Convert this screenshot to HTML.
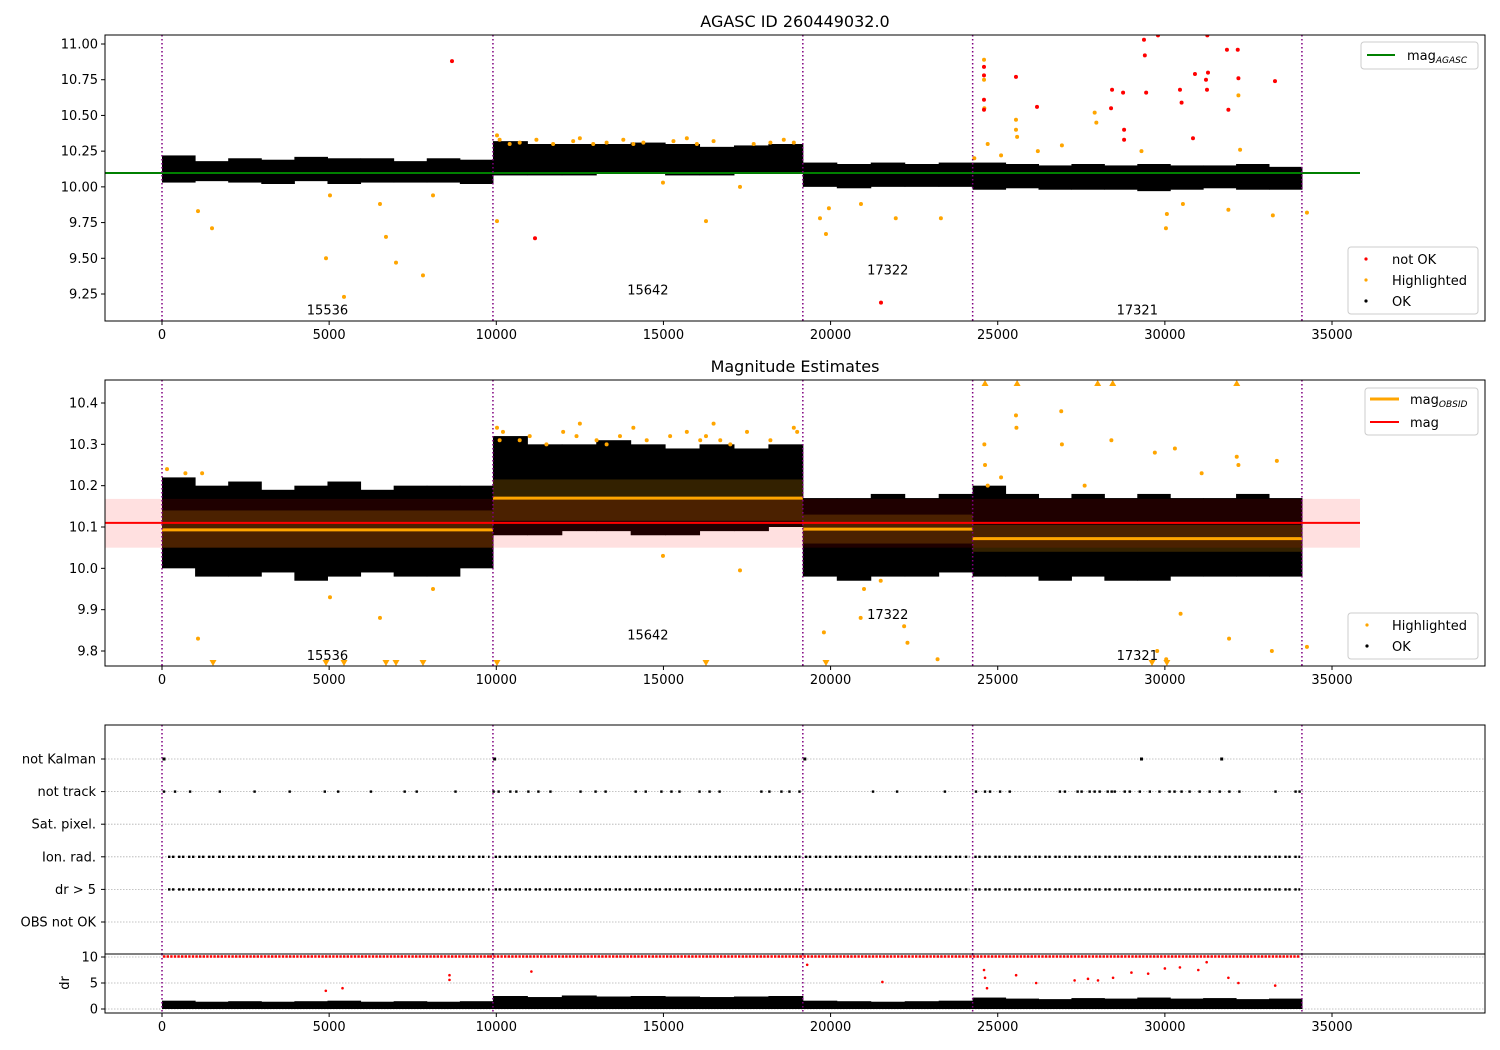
<!DOCTYPE html>
<html><head><meta charset="utf-8">
<style>
html,body{margin:0;padding:0;background:#fff;}
svg{display:block;font-family:"DejaVu Sans","Liberation Sans",sans-serif;}
</style></head>
<body>
<svg id="chart" width="1500" height="1050" viewBox="0 0 1500 1050" xmlns="http://www.w3.org/2000/svg">
<rect width="1500" height="1050" fill="#fff"/>
<text x="795" y="27" font-size="16" text-anchor="middle">AGASC ID 260449032.0</text>
<text x="795" y="372" font-size="16" text-anchor="middle">Magnitude Estimates</text>
<g id="g"></g>
</svg>
<script>
// ---- data ----
const obsBoundaries = [0, 9900, 19170, 24250, 34100];
const obsLabels = ["15536", "15642", "17322", "17321"];
const obsLabelMag1 = [9.14, 9.28, 9.42, 9.14];
const obsLabelMag2 = [9.79, 9.84, 9.89, 9.79];
const magAgasc = 10.097;
const magAll = 10.11;
const magAllLo = 10.05;
const magAllHi = 10.168;
const magObsid = [10.093, 10.17, 10.095, 10.072];
const magObsidLo = [10.05, 10.115, 10.06, 10.04];
const magObsidHi = [10.14, 10.215, 10.13, 10.105];
// panel 1 OK envelope per bin
const p1Hi = [[10.22,10.18,10.2,10.19,10.21,10.2,10.2,10.18,10.2,10.19],[10.32,10.3,10.3,10.3,10.31,10.3,10.28,10.29,10.3],[10.17,10.16,10.17,10.16,10.17],[10.17,10.16,10.15,10.16,10.15,10.16,10.15,10.15,10.16,10.14]];
const p1Lo = [[10.03,10.04,10.03,10.02,10.04,10.02,10.03,10.03,10.03,10.02],[10.08,10.08,10.08,10.09,10.09,10.08,10.08,10.09,10.09],[10.0,9.99,10.0,10.0,10.0],[9.98,9.99,9.98,9.98,9.98,9.97,9.98,9.99,9.98,9.98]];
// panel 2 OK envelope per bin
const p2Hi = [[10.22,10.2,10.21,10.19,10.2,10.21,10.19,10.2,10.2,10.2],[10.32,10.3,10.3,10.31,10.3,10.29,10.3,10.29,10.3],[10.17,10.17,10.18,10.17,10.18],[10.2,10.18,10.17,10.18,10.17,10.18,10.17,10.17,10.18,10.17]];
const p2Lo = [[10.0,9.98,9.98,9.99,9.97,9.98,9.99,9.98,9.98,10.0],[10.08,10.08,10.09,10.09,10.08,10.08,10.09,10.09,10.1],[9.98,9.97,9.98,9.98,9.99],[9.98,9.98,9.97,9.98,9.97,9.97,9.98,9.98,9.98,9.98]];
// panel 1 outliers
const p1RedX = [8675,11158,21508,24589,24589,24589,24589,25546,26175,28390,28420,28750,28780,28780,29375,29400,29440,29794,30452,30500,30841,30900,31230,31260,31290,31270,31857,31900,32200,32180,33294];
const p1RedY = [10.88,9.64,9.19,10.84,10.78,10.61,10.54,10.77,10.56,10.55,10.68,10.66,10.40,10.33,11.03,10.92,10.66,11.06,10.68,10.59,10.34,10.79,10.75,10.68,10.80,11.06,10.96,10.54,10.76,10.96,10.74];
const p1OrX = [1077,1496,5025,4906,5444,6521,6700,7000,7807,8107,10021,10021,10100,10400,10700,11200,11700,12300,12500,12900,13300,13800,14100,14400,14986,15300,15700,16000,16273,16500,17290,17700,18200,18600,18900,19683,19862,19950,20909,21950,23300,24590,24590,24600,25546,25546,25580,26920,27900,27950,29300,30032,30060,30540,31900,32200,32250,33230,34250,24300,24700,25100,26200];
const p1OrY = [9.83,9.71,9.94,9.5,9.23,9.88,9.65,9.47,9.38,9.94,9.76,10.36,10.33,10.3,10.31,10.33,10.3,10.32,10.34,10.3,10.31,10.33,10.3,10.31,10.03,10.32,10.34,10.3,9.76,10.32,10.0,10.3,10.31,10.33,10.31,9.78,9.67,9.85,9.88,9.78,9.78,10.89,10.75,10.55,10.47,10.40,10.35,10.29,10.52,10.45,10.25,9.71,9.81,9.88,9.84,10.64,10.26,9.8,9.82,10.2,10.3,10.22,10.25];
// panel 2 outliers
const p2OrX = [150,700,1077,1200,5025,6521,8107,10021,10100,10200,10700,11000,11500,12000,12400,12500,13000,13300,13700,14100,14500,14986,15200,15700,16100,16273,16500,16700,17000,17290,17500,18200,18900,19000,19800,20900,21000,21500,22200,22300,23200,24600,24620,25546,25560,26900,26920,27600,28400,29700,29770,30040,30300,30470,31100,31920,32150,32200,33200,33350,34250,24700,25100];
const p2OrY = [10.24,10.23,9.83,10.23,9.93,9.88,9.95,10.34,10.31,10.33,10.31,10.32,10.3,10.33,10.32,10.35,10.31,10.3,10.32,10.34,10.31,10.03,10.32,10.33,10.31,10.32,10.35,10.31,10.3,9.995,10.33,10.31,10.34,10.33,9.845,9.88,9.95,9.97,9.86,9.82,9.78,10.3,10.25,10.37,10.34,10.38,10.3,10.2,10.31,10.28,9.8,9.78,10.29,9.89,10.23,9.83,10.27,10.25,9.8,10.26,9.81,10.2,10.22];
const p2TriDownX = [1526,4906,5444,6700,7000,7807,10021,16273,19862,29615,30060];
const p2TriUpX = [24620,25580,27990,28440,32150];
// flags panel
const flagRows = ["not Kalman","not track","Sat. pixel.","Ion. rad.","dr > 5","OBS not OK"];
const notKalmanX = [60,9950,19230,29300,31700];
const notTrackX = [60,390,840,1730,2770,3820,4870,5270,6250,7260,7620,8780,9920,10070,10420,10600,10960,11260,11620,12520,12970,13270,14170,14470,14940,15240,15480,16080,16380,16680,17930,18170,18530,18770,19070,21270,21990,23420,24350,24620,24770,25070,25360,26860,27010,27390,27510,27750,27900,28050,28290,28410,28500,28800,28950,29250,29550,29840,30140,30290,30500,30740,31040,31340,31640,31930,32230,33310,33910,34030];
const denseStart = [180, 9950, 19230, 24300];
const denseEnd = [9800, 19100, 24150, 34050];
// dr panel
const drHi = [[1.6,1.4,1.5,1.4,1.5,1.6,1.4,1.5,1.4,1.5],[2.5,2.3,2.6,2.4,2.5,2.4,2.3,2.4,2.5],[1.6,1.5,1.4,1.5,1.6],[2.2,2.0,1.9,2.1,2.0,2.2,2.0,2.1,1.9,2.0]];
const drRedX = [8600,8600,11050,21550,24590,24620,24680,25550,26150,27300,27700,28000,28450,29000,29500,30000,30450,31000,31250,31900,32200,33300,19300,4900,5400];
const drRedY = [6.5,5.6,7.2,5.2,7.5,6.0,4.0,6.5,5.0,5.5,5.8,5.5,6.0,7.0,6.8,7.8,8.0,7.5,9.0,6.0,5.0,4.5,8.5,3.5,4.0];
const xTicks = [0,5000,10000,15000,20000,25000,30000,35000];
const y1Ticks = [9.25,9.5,9.75,10.0,10.25,10.5,10.75,11.0];
const y2Ticks = [9.8,9.9,10.0,10.1,10.2,10.3,10.4];
const drTicks = [0,5,10];

// ---- scales ----
const X = v => 162 + v * 0.033429;
const Y1 = v => 44 + (11 - v) * 142.857;
const Y2 = v => 403 + (10.4 - v) * 413.33;
const YF = i => 759 + i * 32.6;
const YD = v => 1009 - v * 5.2;

const NS = "http://www.w3.org/2000/svg";
const g = document.getElementById("g");
function mk(tag, attrs, parent) {
  const e = document.createElementNS(NS, tag);
  for (const k in attrs) e.setAttribute(k, attrs[k]);
  (parent || g).appendChild(e);
  return e;
}
function clipRect(id, x, y, w, h) {
  const c = mk("clipPath", {id: id});
  mk("rect", {x: x, y: y, width: w, height: h}, c);
}
clipRect("c1", 105, 35, 1380, 286);
clipRect("c2", 105, 380, 1380, 286);
clipRect("c3", 105, 725, 1380, 229);
clipRect("c4", 105, 954, 1380, 59);

function band(hiArr, loArr, Y, parent, fill) {
  for (let s = 0; s < 4; s++) {
    const a = obsBoundaries[s], b = obsBoundaries[s + 1];
    const n = hiArr[s].length, w = (b - a) / n;
    for (let i = 0; i < n; i++) {
      const r = mk("rect", {x: X(a + i * w), y: Y(hiArr[s][i]), width: X(a + (i + 1) * w) - X(a + i * w) + 0.5, height: Y(loArr[s][i]) - Y(hiArr[s][i]), fill: fill}, parent);
      
      
    }
  }
}
function dots(xs, ys, Y, color, parent, name) {
  for (let i = 0; i < xs.length; i++) {
    const c = mk("circle", {cx: X(xs[i]), cy: Y(ys[i]), r: 2, fill: color}, parent);
    
    
  }
}
function vlines(y0, y1, parent) {
  for (const b of obsBoundaries) {
    const l = mk("line", {x1: X(b), x2: X(b), y1: y0, y2: y1, stroke: "#800080", "stroke-width": 1.5, "stroke-dasharray": "1.5,2.5"}, parent);
    
    
  }
}
function frame(x, y, w, h, name) {
  const r = mk("rect", {x: x, y: y, width: w, height: h, fill: "none", stroke: "#000", "stroke-width": 1});
  
  
}
function xAxis(yb, name) {
  for (const t of xTicks) {
    mk("line", {x1: X(t), x2: X(t), y1: yb, y2: yb + 4, stroke: "#000"});
    const tx = mk("text", {x: X(t), y: yb + 18, "font-size": 13, "text-anchor": "middle"});
    tx.textContent = t;
    
    
  }
}
function yAxis(ticks, Y, fmt, name) {
  for (const t of ticks) {
    mk("line", {x1: 101, x2: 105, y1: Y(t), y2: Y(t), stroke: "#000"});
    const tx = mk("text", {x: 98, y: Y(t) + 4.5, "font-size": 13, "text-anchor": "end"});
    tx.textContent = fmt(t);
    
    
  }
}
function labels(mags, Y, parent) {
  for (let s = 0; s < 4; s++) {
    const t = mk("text", {x: X((obsBoundaries[s] + obsBoundaries[s + 1]) / 2), y: Y(mags[s]) + 5, "font-size": 13, "text-anchor": "middle"}, parent);
    t.textContent = obsLabels[s];
    
    
  }
}

// ---- panel 1 ----
const p1 = mk("g", {"clip-path": "url(#c1)"});


band(p1Hi, p1Lo, Y1, p1, "#000");
dots(p1OrX, p1OrY, Y1, "#ffa500", p1, "highlighted-point");
dots(p1RedX, p1RedY, Y1, "#ff0000", p1, "not-ok-point");
const gl = mk("line", {x1: 105, x2: 1360, y1: Y1(magAgasc), y2: Y1(magAgasc), stroke: "#008000", "stroke-width": 2}, p1);


vlines(35, 321, p1);
labels(obsLabelMag1, Y1, p1);
frame(105, 35, 1380, 286, "agasc-axes");
xAxis(321, "x1");
yAxis(y1Ticks, Y1, t => t.toFixed(2), "y1");

// ---- panel 2 ----
const p2 = mk("g", {"clip-path": "url(#c2)"});


band(p2Hi, p2Lo, Y2, p2, "#000");
const pk = mk("rect", {x: 105, y: Y2(magAllHi), width: 1255, height: Y2(magAllLo) - Y2(magAllHi), fill: "rgba(255,0,0,0.12)"}, p2);


for (let s = 0; s < 4; s++) {
  const a = X(obsBoundaries[s]), b = X(obsBoundaries[s + 1]);
  const r = mk("rect", {x: a, y: Y2(magObsidHi[s]), width: b - a, height: Y2(magObsidLo[s]) - Y2(magObsidHi[s]), fill: "rgba(255,165,0,0.2)"}, p2);
  
  
}
dots(p2OrX, p2OrY, Y2, "#ffa500", p2, "highlighted-point");
for (const x of p2TriDownX) {
  const p = mk("path", {d: `M${X(x)-3.5},660 L${X(x)+3.5},660 L${X(x)},666 Z`, fill: "#ffa500"}, p2);
  
  
}
for (const x of p2TriUpX) {
  const p = mk("path", {d: `M${X(x)-3.5},386 L${X(x)+3.5},386 L${X(x)},380 Z`, fill: "#ffa500"}, p2);
  
  
}
const rl = mk("line", {x1: 105, x2: 1360, y1: Y2(magAll), y2: Y2(magAll), stroke: "#ff0000", "stroke-width": 2}, p2);


for (let s = 0; s < 4; s++) {
  const l = mk("line", {x1: X(obsBoundaries[s]), x2: X(obsBoundaries[s + 1]), y1: Y2(magObsid[s]), y2: Y2(magObsid[s]), stroke: "#ffa500", "stroke-width": 3}, p2);
  
  
}
vlines(380, 666, p2);
labels(obsLabelMag2, Y2, p2);
frame(105, 380, 1380, 286, "magnitude-axes");
xAxis(666, "x2");
yAxis(y2Ticks, Y2, t => t.toFixed(1), "y2");

// ---- flags panel ----
const p3 = mk("g", {"clip-path": "url(#c3)"});


flagRows.forEach((name, i) => {
  const l = mk("line", {x1: 105, x2: 1485, y1: YF(i), y2: YF(i), stroke: "#b0b0b0", "stroke-width": 0.8, "stroke-dasharray": "1.5,1.5"}, p3);
  
  
  mk("line", {x1: 101, x2: 105, y1: YF(i), y2: YF(i), stroke: "#000"});
  const t = mk("text", {x: 96, y: YF(i) + 4.5, "font-size": 13, "text-anchor": "end"});
  t.textContent = name;
  
  
});
for (const x of notKalmanX) {
  const r = mk("rect", {x: X(x) - 1.5, y: YF(0) - 1.5, width: 3, height: 3, fill: "#000"}, p3);
  
  
}
for (const x of notTrackX) {
  const r = mk("rect", {x: X(x) - 1.2, y: YF(1) - 1.2, width: 2.4, height: 2.4, fill: "#000"}, p3);
  
  
}
for (let s = 0; s < denseStart.length; s++) {
  for (const row of [3, 4]) {
    const l = mk("line", {x1: X(denseStart[s]), x2: X(denseEnd[s]), y1: YF(row), y2: YF(row), stroke: "#000", "stroke-width": 2.4, "stroke-dasharray": "2.4,1.6,2.4,3.6"}, p3);
    
    
  }
}
vlines(725, 954, p3);
frame(105, 725, 1380, 229, "flags-axes");

// ---- dr panel ----
const p4 = mk("g", {"clip-path": "url(#c4)"});


for (const t of drTicks) {
  mk("line", {x1: 105, x2: 1485, y1: YD(t), y2: YD(t), stroke: "#b0b0b0", "stroke-width": 0.8, "stroke-dasharray": "1.5,1.5"}, p4);
}
const drLo = drHi.map(a => a.map(() => 0));
band(drHi, drLo, YD, p4, "#000");
for (let s = 0; s < denseStart.length; s++) {
  const l = mk("line", {x1: X(denseStart[s] - 150), x2: X(denseEnd[s]), y1: YD(10) - 0.5, y2: YD(10) - 0.5, stroke: "#ff0000", "stroke-width": 2.4, "stroke-dasharray": "2.4,1.2"}, p4);
  
  
}
for (let i = 0; i < drRedX.length; i++) {
  const c = mk("circle", {cx: X(drRedX[i]), cy: YD(drRedY[i]), r: 1.3, fill: "#ff0000"}, p4);
  
  
}
vlines(954, 1013, p4);
frame(105, 954, 1380, 59, "dr-axes");
xAxis(1013, "x4");
yAxis(drTicks, YD, t => String(t), "dr");
const dl = mk("text", {x: 0, y: 0, "font-size": 13, "text-anchor": "middle", transform: "translate(69,983) rotate(-90)"});
dl.textContent = "dr";



// ---- legends ----
function legendBox(x, y, w, h, name) {
  const r = mk("rect", {x: x, y: y, width: w, height: h, rx: 3, fill: "rgba(255,255,255,0.85)", stroke: "#ccc"});
  
  
}
function legText(x, y, html, name) {
  const t = mk("text", {x: x, y: y, "font-size": 13});
  t.innerHTML = html;
  
  
}
legendBox(1361, 42, 117, 27, "legend-agasc");
mk("line", {x1: 1367, x2: 1395, y1: 55, y2: 55, stroke: "#008000", "stroke-width": 2});
legText(1407, 60, 'mag<tspan font-size="9" font-style="italic" dy="3">AGASC</tspan>', "legend-entry-mag-agasc");
legendBox(1348, 247, 130, 67, "legend-points-1");
mk("circle", {cx: 1366, cy: 259, r: 1.6, fill: "#ff0000"});
legText(1392, 264, "not OK", "legend-entry-not-ok");
mk("circle", {cx: 1366, cy: 280, r: 1.6, fill: "#ffa500"});
legText(1392, 285, "Highlighted", "legend-entry-highlighted");
mk("circle", {cx: 1366, cy: 301, r: 1.6, fill: "#000"});
legText(1392, 306, "OK", "legend-entry-ok");
legendBox(1365, 388, 113, 47, "legend-mag");
mk("line", {x1: 1370, x2: 1399, y1: 399, y2: 399, stroke: "#ffa500", "stroke-width": 3});
legText(1410, 404, 'mag<tspan font-size="9" font-style="italic" dy="3">OBSID</tspan>', "legend-entry-mag-obsid");
mk("line", {x1: 1370, x2: 1399, y1: 422, y2: 422, stroke: "#ff0000", "stroke-width": 2});
legText(1410, 427, "mag", "legend-entry-mag");
legendBox(1348, 613, 130, 46, "legend-points-2");
mk("circle", {cx: 1367, cy: 625, r: 1.6, fill: "#ffa500"});
legText(1392, 630, "Highlighted", "legend-entry-highlighted-2");
mk("circle", {cx: 1367, cy: 646, r: 1.6, fill: "#000"});
legText(1392, 651, "OK", "legend-entry-ok-2");
</script>
</body></html>
